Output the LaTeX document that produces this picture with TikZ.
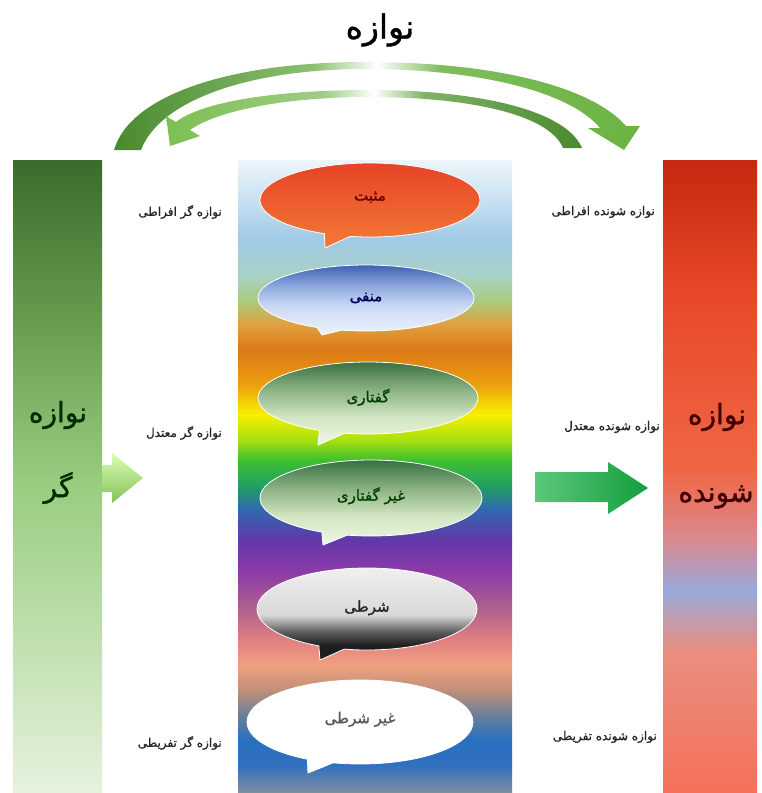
\documentclass[tikz,border=0pt]{standalone}
\usepackage{fontspec}
\usepackage{tikz}
\usetikzlibrary{shapes.callouts}
\newfontfamily\arabicfont[Script=Arabic]{DejaVu Sans}
\newfontfamily\arabicbold[Script=Arabic,FakeBold=1.2]{DejaVu Sans}
\TeXXeTstate=1
\newcommand{\rl}[1]{\beginR#1\endR}

\definecolor{postop}{HTML}{E64426}
\definecolor{posbot}{HTML}{F37A36}
\definecolor{arrowl}{HTML}{5CC87A}
\definecolor{arrowr}{HTML}{129E3E}

\pgfdeclareverticalshading{strip}{100bp}{rgb(0bp)=(.50,.56,.63); rgb(25bp)=(.50,.56,.63);
  rgb(27.2bp)=(.19,.44,.75); rgb(29.2bp)=(.16,.44,.75); rgb(31.2bp)=(.42,.50,.60);
  rgb(33.1bp)=(.75,.56,.47); rgb(35.1bp)=(.94,.63,.50); rgb(37.1bp)=(.88,.50,.50);
  rgb(39.5bp)=(.69,.38,.56); rgb(42.6bp)=(.54,.23,.66); rgb(45bp)=(.38,.22,.66);
  rgb(47.4bp)=(.19,.41,.69); rgb(49.3bp)=(.13,.63,.38); rgb(51.3bp)=(.25,.75,.19);
  rgb(52.9bp)=(.66,.88,.06); rgb(54.9bp)=(.97,.94,0); rgb(57.2bp)=(.93,.63,.06);
  rgb(60bp)=(.86,.47,.09); rgb(62bp)=(.88,.63,.25); rgb(63.9bp)=(.66,.80,.50);
  rgb(65.9bp)=(.66,.82,.78); rgb(68.7bp)=(.63,.79,.90); rgb(71.8bp)=(.78,.88,.95);
  rgb(75bp)=(.93,.96,.98); rgb(100bp)=(.93,.96,.98)}
\pgfdeclareverticalshading{giverbar}{100bp}{rgb(0bp)=(.90,.95,.87); rgb(25bp)=(.90,.95,.87);
  rgb(49.7bp)=(.60,.80,.50); rgb(61.6bp)=(.42,.62,.32); rgb(75bp)=(.23,.42,.17);
  rgb(100bp)=(.23,.42,.17)}
\pgfdeclareverticalshading{takerbar}{100bp}{rgb(0bp)=(.96,.44,.35); rgb(25bp)=(.96,.44,.35);
  rgb(36.3bp)=(.91,.56,.50); rgb(41bp)=(.60,.66,.85); rgb(45bp)=(.85,.54,.56);
  rgb(50.5bp)=(.94,.40,.27); rgb(63.9bp)=(.91,.29,.16); rgb(75bp)=(.77,.16,.06);
  rgb(100bp)=(.77,.16,.06)}
\pgfdeclarehorizontalshading{outerarc}{100bp}{rgb(0bp)=(.29,.54,.18); rgb(25bp)=(.29,.54,.18);
  rgb(44bp)=(.55,.75,.45); rgb(50bp)=(1,1,1); rgb(56bp)=(.50,.74,.36); rgb(75bp)=(.42,.70,.26);
  rgb(100bp)=(.42,.70,.26)}
\pgfdeclarehorizontalshading{innerarc}{100bp}{rgb(0bp)=(.49,.75,.32); rgb(25bp)=(.49,.75,.32);
  rgb(44bp)=(.62,.80,.52); rgb(50bp)=(1,1,1); rgb(56bp)=(.50,.70,.40); rgb(75bp)=(.29,.54,.18);
  rgb(100bp)=(.29,.54,.18)}
\pgfdeclareverticalshading{condshade}{100bp}{rgb(0bp)=(.10,.10,.10); rgb(33bp)=(.12,.12,.12);
  rgb(40bp)=(.35,.35,.35); rgb(49.5bp)=(.85,.85,.85); rgb(75bp)=(.94,.94,.94);
  rgb(100bp)=(.94,.94,.94)}
\pgfdeclareverticalshading{negshade}{100bp}{rgb(0bp)=(.93,.95,.99); rgb(25bp)=(.93,.95,.99);
  rgb(45bp)=(.80,.86,.96); rgb(60bp)=(.55,.66,.87); rgb(75bp)=(.25,.38,.70);
  rgb(100bp)=(.25,.38,.70)}
\pgfdeclareverticalshading{verbshade}{100bp}{rgb(0bp)=(.94,.97,.90); rgb(25bp)=(.94,.97,.90);
  rgb(42bp)=(.82,.90,.76); rgb(58bp)=(.55,.70,.52); rgb(75bp)=(.22,.44,.26);
  rgb(100bp)=(.22,.44,.26)}

\tikzset{
  bubble/.style={ellipse callout, draw=white, line width=0.8pt, inner sep=0pt,
    minimum width=220pt, minimum height=72pt, callout pointer arc=14,
    font=\arabicbold\fontsize{15}{18}\selectfont},
  side/.style={font=\arabicbold\fontsize{12}{14}\selectfont, inner sep=0pt, text=black!85},
  bartext/.style={font=\arabicbold\fontsize{28}{33}\selectfont, inner sep=0pt},
}

\begin{document}
\begin{tikzpicture}[x=1pt, y=-1pt]
  \useasboundingbox (0,0) rectangle (761,793);

  % background columns
  \shade[shading=strip] (238,160) rectangle (512,793);
  \shade[shading=giverbar] (13,160) rectangle (102,793);
  \shade[shading=takerbar] (663,160) rectangle (757,793);

  \node[font=\arabicbold\fontsize{33}{38}\selectfont] (title) at (380,30) {\rl{نوازه}};

  % the two curved arrows
  \shade[shading=outerarc] (114,150) .. controls (130,95) and (230,62) .. (365,62)
    .. controls (490,62) and (590,85) .. (626,126) -- (640,126) -- (624,150) -- (588,128)
    -- (600,128) .. controls (570,92) and (480,69) .. (365,69)
    .. controls (250,69) and (160,100) .. (141,150) -- cycle;
  \shade[shading=innerarc] (582,148) .. controls (565,108) and (470,90) .. (370,90)
    .. controls (270,90) and (200,103) .. (176,122) -- (166,116) -- (170,146) -- (200,136)
    -- (190,130) .. controls (215,112) and (280,97) .. (370,97)
    .. controls (460,97) and (548,112) .. (563,148) -- cycle;

  % bar labels
  \node[bartext, text=black!70!green!60!black] (gv1) at (58,415) {\rl{نوازه}};
  \node[bartext, text=black!70!green!60!black] (gv2) at (58,488) {\rl{گر}};
  \node[bartext, text=black!75!red] (tk1) at (717,417) {\rl{نوازه}};
  \node[bartext, text=black!75!red] (tk2) at (716,497) {\rl{شونده}};

  % side labels
  \node[side, anchor=east] (g1) at (222,212) {\rl{نوازه گر افراطی}};
  \node[side, anchor=east] (g2) at (222,433) {\rl{نوازه گر معتدل}};
  \node[side, anchor=east] (g3) at (222,743) {\rl{نوازه گر تفریطی}};
  \node[side, anchor=east] (s1) at (655,212) {\rl{نوازه شونده افراطی}};
  \node[side, anchor=east] (s2) at (660,427) {\rl{نوازه شونده معتدل}};
  \node[side, anchor=east] (s3) at (657,737) {\rl{نوازه شونده تفریطی}};

  % block arrows
  \shade[top color=green!30!lime!30, bottom color=green!45!lime!45!gray!90]
    (102,465) -- (112,465) -- (112,453) -- (143,478) -- (112,503) -- (112,492) -- (102,492) -- cycle;
  \shade[left color=arrowl, right color=arrowr]
    (535,472) -- (608,472) -- (608,462) -- (648,488) -- (608,514) -- (608,502) -- (535,502) -- cycle;

  % speech bubbles
  \node[bubble, minimum height=74pt, top color=postop, bottom color=posbot,
    text=red!40!black, callout absolute pointer={(325,248)}] (pos) at (370,200) {\raisebox{8pt}{\rl{مثبت}}};
  \node[bubble, minimum width=216pt, minimum height=66pt, shading=negshade, text=blue!35!black,
    callout absolute pointer={(322,335)}] (neg) at (366,298) {\raisebox{2pt}{\rl{منفی}}};
  \node[bubble, shading=verbshade, text=green!25!black,
    callout absolute pointer={(318,445)}] (verb) at (368,398) {\raisebox{5pt}{\rl{گفتاری}}};
  \node[bubble, minimum width=222pt, minimum height=76pt, shading=verbshade, text=green!25!black,
    callout absolute pointer={(323,545)}] (nverb) at (371,498) {\raisebox{8pt}{\rl{غیر گفتاری}}};
  \node[bubble, minimum height=82pt, shading=condshade, text=black!85,
    callout absolute pointer={(320,660)}] (cond) at (367,609) {\raisebox{6pt}{\rl{شرطی}}};
  \node[bubble, minimum width=226pt, minimum height=84pt, fill=white, text=black!65,
    callout absolute pointer={(308,773)}] (ncond) at (360,722) {\raisebox{9pt}{\rl{غیر شرطی}}};
\end{tikzpicture}
\end{document}
